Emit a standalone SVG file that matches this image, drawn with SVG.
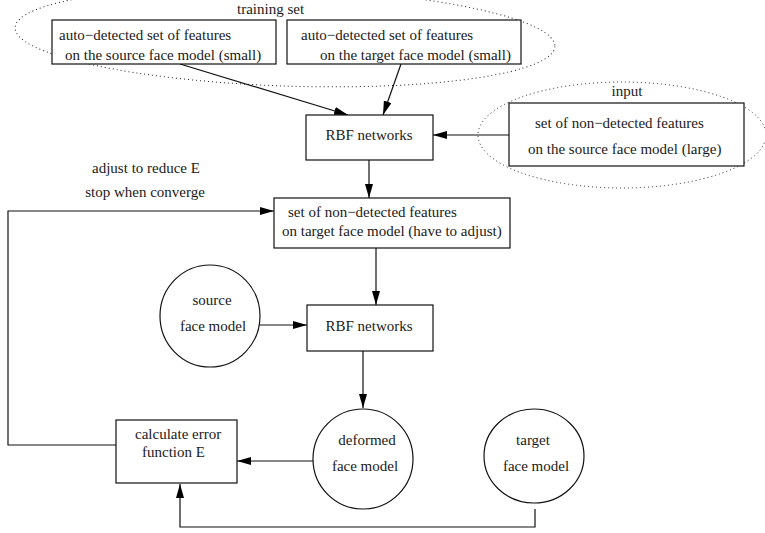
<svg xmlns="http://www.w3.org/2000/svg" width="765" height="533" viewBox="0 0 765 533">
<style>
text{font-family:"Liberation Serif","Times New Roman",serif;font-size:15px;fill:#1a1a1a}
.m{text-anchor:middle}
.box{fill:#fff;stroke:#111;stroke-width:1.2}
.cir{fill:#fff;stroke:#111;stroke-width:1.2}
.dot{fill:none;stroke:#222;stroke-width:1;stroke-dasharray:1 3}
.c{fill:none;stroke:#111;stroke-width:1.2;marker-end:url(#ah)}
</style>
<defs>
<marker id="ah" markerUnits="userSpaceOnUse" markerWidth="14" markerHeight="8" refX="14" refY="4" orient="auto">
<path d="M0,0 L14,4 L0,8 z" fill="#000"/>
</marker>
</defs>
<g id="groups">
<ellipse class="dot" cx="285" cy="37" rx="270" ry="49" transform="rotate(2 285 37)"/>
<text x="237" y="14">training set</text>
<ellipse class="dot" cx="622" cy="135" rx="144" ry="53"/>
<text class="m" x="627" y="96">input</text>
</g>
<g id="connectors">
<path class="c" d="M180,64 L348,115"/>
<path class="c" d="M401,64 L383,115"/>
<path class="c" d="M509,135 L433,135"/>
<path class="c" d="M369,160 L369,198"/>
<path class="c" d="M116,445 L8,445 L8,211 L274,211"/>
<path class="c" d="M376,248 L376,305"/>
<path class="c" d="M257,325 L307,325"/>
<path class="c" d="M363,351 L363,408"/>
<path class="c" d="M313,461 L237,461"/>
<path class="c" d="M535,509 L535,527 L180,527 L180,484"/>
</g>
<g id="src-small">
<rect class="box" x="52" y="20" width="224" height="44"/>
<text x="59" y="40">auto−detected set of features</text>
<text x="65" y="60">on the source face model (small)</text>
</g>
<g id="tgt-small">
<rect class="box" x="287" y="20" width="234" height="44"/>
<text x="301" y="40">auto−detected set of features</text>
<text x="320" y="60">on the target face model (small)</text>
</g>
<g id="rbf1">
<rect class="box" x="306" y="115" width="127" height="45"/>
<text class="m" x="369" y="140">RBF networks</text>
</g>
<g id="src-large">
<rect class="box" x="509" y="103" width="235" height="63"/>
<text x="535" y="128">set of non−detected features</text>
<text x="528" y="154">on the source face model (large)</text>
</g>
<g id="adjust">
<rect class="box" x="274" y="198" width="236" height="50"/>
<text x="288" y="217">set of non−detected features</text>
<text x="282" y="236">on target face model (have to adjust)</text>
</g>
<g id="label">
<text class="m" x="146" y="173">adjust to reduce E</text>
<text class="m" x="145" y="197">stop when converge</text>
</g>
<g id="source">
<ellipse class="cir" cx="210" cy="316" rx="50" ry="51"/>
<text class="m" x="212" y="305">source</text>
<text class="m" x="213" y="331">face model</text>
</g>
<g id="rbf2">
<rect class="box" x="307" y="305" width="126" height="46"/>
<text class="m" x="369" y="331">RBF networks</text>
</g>
<g id="calc">
<rect class="box" x="116" y="420" width="121" height="63"/>
<text x="135" y="439">calculate error</text>
<text x="142" y="457">function E</text>
</g>
<g id="deformed">
<ellipse class="cir" cx="363" cy="459" rx="50" ry="50"/>
<text class="m" x="367" y="445">deformed</text>
<text class="m" x="365" y="471">face model</text>
</g>
<g id="target">
<ellipse class="cir" cx="534" cy="456" rx="50" ry="47"/>
<text class="m" x="533" y="445">target</text>
<text class="m" x="536" y="471">face model</text>
</g>
</svg>
